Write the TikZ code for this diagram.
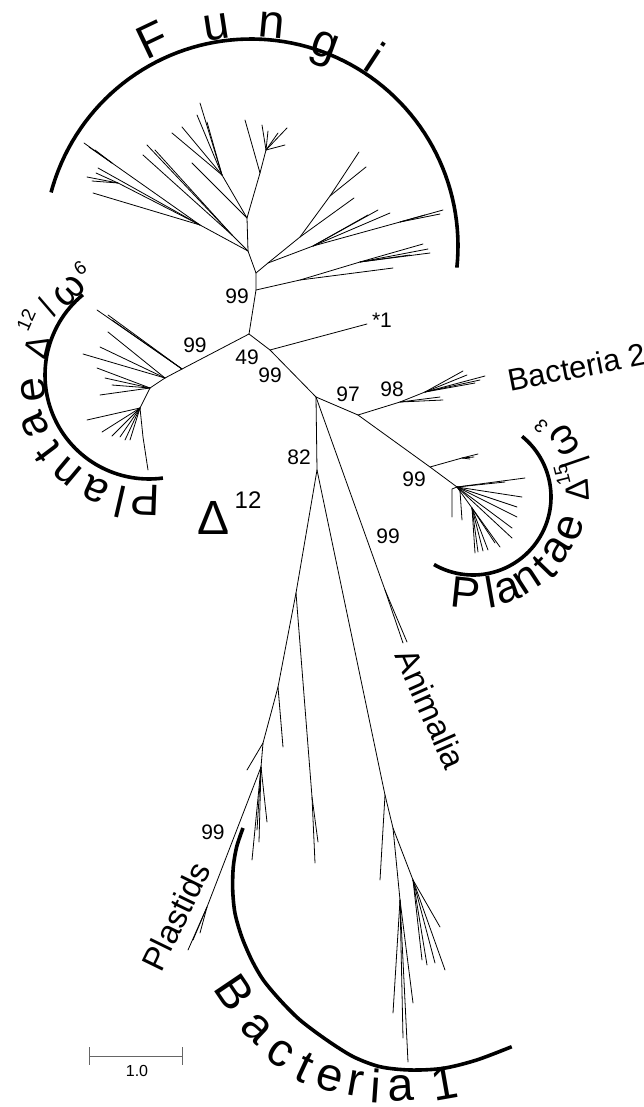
\documentclass[tikz,border=0pt]{standalone}
\usepackage{fontspec}
\setmainfont{Liberation Sans}
\usetikzlibrary{calc}
\newcommand{\fsz}[1]{\fontsize{#1pt}{#1pt}\selectfont}
\begin{document}
\begin{tikzpicture}[x=1pt,y=-1pt,
  br/.style={line width=0.8pt, line cap=round, line join=round},
  clade/.style={line width=3.6pt},
  lbl/.style={inner sep=0pt, font=\fsz{21}},
  bigl/.style={inner sep=0pt, font=\fsz{47}},
  midl/.style={inner sep=0pt, font=\fsz{44}},
  grk/.style={inner sep=0pt, font=\fsz{33}},
  omg/.style={inner sep=0pt, font=\fsz{40}},
  sup/.style={inner sep=0pt, font=\fsz{19}},
  taxon/.style={inner sep=0pt, font=\fsz{32}}]
\useasboundingbox (0,0) rectangle (643,1107);
% ---------------- backbone ----------------
\coordinate (A) at (249,334);
\coordinate (F1) at (256,290);
\coordinate (F2) at (256,273);
\coordinate (F3) at (248,251);
\coordinate (F4) at (247,218);
\coordinate (F5) at (260,173);
\draw[br] (A)--(F1)--(F2)--(F3)--(F4)--(F5);
% Fungi lower right
\coordinate (R4) at (300,280); \coordinate (R4b) at (360,262);
\coordinate (r4a) at (423,244); \coordinate (r4b) at (430,253);
\coordinate (r4c) at (393,268); \coordinate (r4d) at (428,249);
\coordinate (r4e) at (410,255);
\draw[br] (F1)--(R4)--(R4b)--(r4a);
\draw[br] (R4b)--(r4b); \draw[br] (R4b)--(r4d); \draw[br] (R4b)--(r4e);
\draw[br] (R4)--(r4c);
% Fungi right
\coordinate (R1) at (268,263); \coordinate (R2) at (300,237); \coordinate (R2b) at (330,196);
\coordinate (r2a) at (359,152); \coordinate (r2b) at (366,167); \coordinate (r2c) at (354,198);
\draw[br] (F2)--(R1)--(R2)--(R2b)--(r2a); \draw[br] (R2b)--(r2b); \draw[br] (R2)--(r2c);
\coordinate (R3) at (313,246); \coordinate (R3d) at (400,222);
\coordinate (r3a) at (378,210); \coordinate (r3b) at (390,213); \coordinate (r3c) at (368,215);
\coordinate (r3d) at (443,210); \coordinate (r3e) at (440,214); \coordinate (r3f) at (425,215);
\draw[br] (R1)--(R3)--(r3a); \draw[br] (R3)--(r3b); \draw[br] (R3)--(r3c);
\draw[br] (R3)--(R3d)--(r3d); \draw[br] (R3d)--(r3e); \draw[br] (R3d)--(r3f);
% Fungi left
\coordinate (L1) at (200,225); \coordinate (L1a) at (112,163); \coordinate (L1b) at (118,183);
\coordinate (l1a1) at (84,143); \coordinate (l1a2) at (89,147); \coordinate (l1a3) at (95,150);
\coordinate (l1b1) at (87,177); \coordinate (l1b2) at (92,181); \coordinate (l1b3) at (96,173);
\coordinate (l1c) at (93,193); \coordinate (l1d) at (98,168);
\draw[br] (F3)--(L1)--(L1a)--(l1a1); \draw[br] (L1a)--(l1a2); \draw[br] (L1a)--(l1a3);
\draw[br] (L1)--(L1b)--(l1b1); \draw[br] (L1b)--(l1b2); \draw[br] (L1b)--(l1b3);
\draw[br] (L1)--(l1c); \draw[br] (L1)--(l1d);
\coordinate (L2) at (232,235);
\coordinate (l2a) at (147,145); \coordinate (l2b) at (143,155); \coordinate (l2c) at (155,150);
\draw[br] (F3)--(L2)--(l2a); \draw[br] (L2)--(l2b); \draw[br] (L2)--(l2c);
\coordinate (l4) at (192,163);
\draw[br] (F4)--(l4);
\coordinate (L3) at (222,175);
\coordinate (l3a) at (200,103); \coordinate (l3b) at (172,133); \coordinate (l3c) at (182,127);
\coordinate (l3d) at (197,115); \coordinate (l3e) at (207,122);
\draw[br] (F4)--(L3)--(l3a); \draw[br] (L3)--(l3b); \draw[br] (L3)--(l3c);
\draw[br] (L3)--(l3d); \draw[br] (L3)--(l3e);
% Fungi top
\coordinate (F5b) at (266,150);
\coordinate (f5a) at (245,120); \coordinate (f5b) at (262,125); \coordinate (f5c) at (268,131);
\coordinate (f5d) at (287,128); \coordinate (f5e) at (285,145); \coordinate (f5f) at (278,133);
\draw[br] (F5)--(f5a); \draw[br] (F5)--(F5b)--(f5b); \draw[br] (F5b)--(f5c);
\draw[br] (F5b)--(f5d); \draw[br] (F5b)--(f5e); \draw[br] (F5b)--(f5f);
% ---------------- left Plantae ----------------
\coordinate (P0) at (182,369); \coordinate (P1) at (165,378); \coordinate (P2) at (150,388);
\coordinate (P3) at (140,408); \coordinate (P4) at (143,437);
\coordinate (p0a) at (97,310); \coordinate (p0b) at (108,315); \coordinate (p0c) at (112,320);
\coordinate (p1a) at (108,332); \coordinate (p1b) at (100,347); \coordinate (p1c) at (83,354);
\coordinate (p2a) at (97,368); \coordinate (p2b) at (112,385); \coordinate (p2c) at (100,395);
\coordinate (p2d) at (105,378);
\coordinate (p3a) at (87,420); \coordinate (p3b) at (102,432); \coordinate (p3c) at (130,440);
\coordinate (p3d) at (120,437); \coordinate (p3e) at (125,440); \coordinate (p3f) at (112,436);
\coordinate (p4) at (148,470);
\draw[br] (A)--(P0)--(P1)--(P2)--(P3)--(P4)--(p4);
\draw[br] (P0)--(p0a); \draw[br] (P0)--(p0b); \draw[br] (P0)--(p0c);
\draw[br] (P1)--(p1a); \draw[br] (P1)--(p1b); \draw[br] (P1)--(p1c);
\draw[br] (P2)--(p2a); \draw[br] (P2)--(p2b); \draw[br] (P2)--(p2c); \draw[br] (P2)--(p2d);
\draw[br] (P3)--(p3a); \draw[br] (P3)--(p3b); \draw[br] (P3)--(p3c);
\draw[br] (P3)--(p3d); \draw[br] (P3)--(p3e); \draw[br] (P3)--(p3f);
% ---------------- right part ----------------
\coordinate (S1) at (270,350); \coordinate (s1) at (367,324);
\coordinate (B) at (316,397); \coordinate (C) at (358,415);
\draw[br] (A)--(S1)--(B)--(C); \draw[br] (S1)--(s1);
% Bacteria 2
\coordinate (BB) at (400,402); \coordinate (BB2) at (425,392);
\coordinate (b2a) at (463,371); \coordinate (b2b) at (467,375); \coordinate (b2c) at (485,376);
\coordinate (b2d) at (480,380); \coordinate (b2e) at (475,383); \coordinate (b2f) at (443,400);
\coordinate (b2g) at (440,397);
\draw[br] (C)--(BB)--(BB2)--(b2a); \draw[br] (BB2)--(b2b); \draw[br] (BB2)--(b2c);
\draw[br] (BB2)--(b2d); \draw[br] (BB2)--(b2e); \draw[br] (BB)--(b2f); \draw[br] (BB)--(b2g);
% right Plantae
\coordinate (D) at (430,467); \coordinate (D2) at (462,458);
\coordinate (d1) at (478,454); \coordinate (d2) at (474,457); \coordinate (d3) at (470,459);
\coordinate (RP) at (457,487); \coordinate (RP2) at (460,491); \coordinate (RP3) at (472,508);
\coordinate (RP1) at (452,489);
\draw[br] (C)--(D)--(RP); \draw[br] (D)--(D2)--(d1); \draw[br] (D2)--(d2); \draw[br] (D2)--(d3);
\coordinate (rp1) at (452,517); \coordinate (rp2) at (462,520);
\coordinate (rp3) at (525,478); \coordinate (rp4) at (505,482); \coordinate (rp5) at (522,497);
\coordinate (rp6) at (517,507); \coordinate (rp7) at (517,517); \coordinate (rp8) at (512,528);
\coordinate (rp9) at (512,538);
\draw[br] (RP)--(RP1)--(rp1); \draw[br] (RP)--(RP2)--(rp2);
\draw[br] (RP)--(rp3); \draw[br] (RP)--(rp4); \draw[br] (RP)--(rp5); \draw[br] (RP)--(rp6);
\draw[br] (RP)--(rp7); \draw[br] (RP)--(rp8); \draw[br] (RP)--(rp9);
\coordinate (rq1) at (475,553); \coordinate (rq2) at (478,552); \coordinate (rq3) at (500,547);
\coordinate (rq4) at (495,543); \coordinate (rq5) at (488,550); \coordinate (rq6) at (483,551);
\draw[br] (RP)--(RP3)--(rq1); \draw[br] (RP3)--(rq2); \draw[br] (RP3)--(rq3);
\draw[br] (RP3)--(rq4); \draw[br] (RP3)--(rq5); \draw[br] (RP3)--(rq6);
% Animalia
\coordinate (AN) at (385,590); \coordinate (an1) at (407,642); \coordinate (an2) at (403,643);
\draw[br] (B)--(AN)--(an1); \draw[br] (AN)--(an2);
% lower tree
\coordinate (E) at (317,470);
\draw[br] (B)--(E);
\coordinate (G1) at (296,593); \coordinate (G2) at (278,687); \coordinate (G3) at (263,743);
\coordinate (G4) at (261,767);
\draw[br] (E)--(G1)--(G2)--(G3)--(G4);
\coordinate (g2) at (283,747); \coordinate (g3) at (247,770);
\draw[br] (G2)--(g2); \draw[br] (G3)--(g3);
\coordinate (g4a) at (267,822); \coordinate (g4b) at (252,860); \coordinate (g4c) at (259,842);
\coordinate (g4d) at (257,830);
\draw[br] (G4)--(g4a); \draw[br] (G4)--(g4b); \draw[br] (G4)--(g4c); \draw[br] (G4)--(g4d);
\coordinate (PL) at (207,907);
\coordinate (pla) at (188,950); \coordinate (plb) at (193,940); \coordinate (plc) at (200,933);
\draw[br] (G4)--(PL)--(pla); \draw[br] (PL)--(plb); \draw[br] (PL)--(plc);
\coordinate (M) at (312,797); \coordinate (m1) at (315,863); \coordinate (m2) at (318,842);
\draw[br] (G1)--(M)--(m1); \draw[br] (M)--(m2);
\coordinate (H1) at (385,795); \coordinate (h1) at (380,880);
\draw[br] (E)--(H1)--(h1);
\coordinate (H2) at (393,828); \coordinate (H3) at (413,880); \coordinate (H4) at (400,900);
\draw[br] (H1)--(H2)--(H3); \draw[br] (H2)--(H4);
\coordinate (h3a) at (440,927); \coordinate (h3b) at (445,970); \coordinate (h3c) at (435,963);
\coordinate (h3d) at (427,965); \coordinate (h3e) at (422,960);
\draw[br] (H3)--(h3a); \draw[br] (H3)--(h3b); \draw[br] (H3)--(h3c);
\draw[br] (H3)--(h3d); \draw[br] (H3)--(h3e);
\coordinate (h4a) at (393,1013); \coordinate (h4b) at (413,1003); \coordinate (h4c) at (403,1038);
\coordinate (h4d) at (408,1062);
\draw[br] (H4)--(h4a); \draw[br] (H4)--(h4b); \draw[br] (H4)--(h4c); \draw[br] (H4)--(h4d);
% ---------------- clade arcs ----------------
\draw[clade] plot[domain=165:-6, samples=80] ({251+207*cos(\x)},{246-207*sin(\x)});
\draw[clade] plot[domain=129.5:277.7, samples=60] ({149+104*cos(\x)},{375-104*sin(\x)});
\draw[clade] plot[domain=51:-120, samples=60] ({473+78*cos(\x)},{497-78*sin(\x)});
\draw[clade] plot[smooth] coordinates {(243,828) (236.7,846.7) (233.3,866.7) (232.7,890) (235,913.3) (241.7,936.7) (251.7,960) (263.3,980) (280,1000) (300,1020) (326.7,1040) (353.3,1056.7) (380,1066.7) (410,1070) (443.3,1068.3) (476.7,1060) (511.7,1046.7)};
% ---------------- clade names ----------------
\node[bigl, rotate=25.4] (fu1) at (153,40) {F};
\node[bigl, rotate=8.8] (fu2) at (217,27) {u};
\node[bigl, rotate=-5.4] (fu3) at (272,25) {n};
\node[bigl, rotate=-20.2] (fu4) at (323,50) {g};
\node[bigl, rotate=-33.3] (fu5) at (375,57) {i};
% left Plantae
\node[midl, rotate=178] (lp1) at (145,500) {P};
\node[midl, rotate=167] (lp2) at (120,502) {l};
\node[midl, rotate=155] (lp3) at (95,490) {a};
\node[midl, rotate=140] (lp4) at (68,472) {n};
\node[midl, rotate=127] (lp5) at (48,452) {t};
\node[midl, rotate=114] (lp6) at (35,425) {a};
\node[midl, rotate=97] (lp7) at (33,390) {e};
\node[grk, rotate=76] (lp8) at (37,347) {Δ};
\node[sup, rotate=66] (lp9) at (26,320) {12};
\node[grk, rotate=56] (lp10) at (47,307) {/};
\node[omg, rotate=44] (lp11) at (69,291) {ω};
\node[sup, rotate=34] (lp12) at (80,268) {6};
% right Plantae
\node[midl, rotate=-6] (rp1t) at (466,593) {P};
\node[midl, rotate=10] (rp2t) at (491,592) {l};
\node[midl, rotate=20] (rp3t) at (508,590) {a};
\node[midl, rotate=33] (rp4t) at (527,580) {n};
\node[midl, rotate=46] (rp5t) at (545,567) {t};
\node[midl, rotate=58] (rp6t) at (557,550) {a};
\node[midl, rotate=72] (rp7t) at (570,528) {e};
\node[grk, rotate=94] (rp8t) at (577,490) {Δ};
\node[sup, rotate=104] (rp9t) at (562,475) {15};
\node[grk, rotate=109] (rp10t) at (575,462) {|};
\node[omg, rotate=121] (rp11t) at (564,441) {ω};
\node[sup, rotate=135] (rp12t) at (541,426) {3};
% Bacteria 1
\node[bigl, rotate=-56] (bc1) at (235,992) {B};
\node[bigl, rotate=-43.5] (bc2) at (257,1028) {a};
\node[bigl, rotate=-33] (bc3) at (280,1053) {c};
\node[bigl, rotate=-25] (bc4) at (305,1068) {t};
\node[bigl, rotate=-17] (bc5) at (330,1078) {e};
\node[bigl, rotate=-10] (bc6) at (355,1083) {r};
\node[bigl, rotate=-4] (bc7) at (376,1086) {i};
\node[bigl, rotate=3] (bc8) at (401,1088) {a};
\node[bigl, rotate=10] (bc9) at (445,1083) {1};
% other taxa
\node[taxon, font=\fsz{31}, rotate=11] (tb2) at (577,367) {Bacteria 2};
\node[taxon, font=\fsz{33}, rotate=-66] (tan) at (431,709) {Animalia};
\node[taxon, font=\fsz{33}, rotate=64] (tpl) at (176,916) {Plastids};
\node[lbl] (t1) at (382,320) {*1};
% Delta 12 label
\node[inner sep=0pt, font=\fsz{48}] (dl) at (214,518) {Δ};
\node[inner sep=0pt, font=\fsz{24}] (dl12) at (248,500) {12};
% bootstrap values
\node[lbl] (v1) at (237,296) {99};
\node[lbl] (v2) at (195,345) {99};
\node[lbl] (v3) at (247,357) {49};
\node[lbl] (v4) at (270,375) {99};
\node[lbl] (v5) at (299,457) {82};
\node[lbl] (v6) at (348,394) {97};
\node[lbl] (v7) at (392,389) {98};
\node[lbl] (v8) at (414,479) {99};
\node[lbl] (v9) at (388,536) {99};
\node[lbl] (v10) at (213,832) {99};
% scale bar
\coordinate (sb1) at (89,1056); \coordinate (sb2) at (182,1056);
\coordinate (sb1t) at (89,1047); \coordinate (sb1b) at (89,1065);
\coordinate (sb2t) at (182,1047); \coordinate (sb2b) at (182,1065);
\draw[gray!80!black, line width=0.8pt] (sb1)--(sb2);
\draw[gray!80!black, line width=0.8pt] (sb1t)--(sb1b);
\draw[gray!80!black, line width=0.8pt] (sb2t)--(sb2b);
\node[inner sep=0pt, font=\fsz{16}] (sbl) at (137,1071) {1.0};
\end{tikzpicture}
\end{document}
